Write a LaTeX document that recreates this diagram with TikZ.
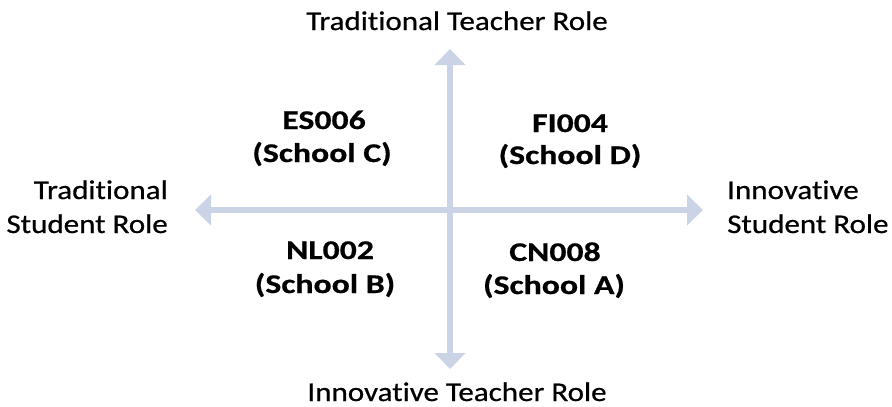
\documentclass[tikz,border=0pt]{standalone}
\usepackage{fontspec}
\setmainfont[Ligatures=NoCommon]{Carlito}
\newfontfamily\axisfont[Ligatures=NoCommon,FakeStretch=1.15,FakeBold=0.6]{Carlito}
\newfontfamily\quadfont[Ligatures=NoCommon,FakeStretch=1.25,BoldFont={Carlito Bold},BoldFeatures={FakeBold=0.6}]{Carlito}
\usetikzlibrary{arrows.meta}
\definecolor{axis}{RGB}{203,212,231}
\begin{document}
\begin{tikzpicture}[x=1pt,y=-1pt,
  axisline/.style={draw=axis,line width=6.5pt,-{Triangle[length=16pt,width=30pt]}},
  axislabel/.style={font=\axisfont\fontsize{27}{34}\selectfont,text=black,inner sep=0pt,anchor=base},
  quadlabel/.style={font=\quadfont\bfseries\fontsize{27}{33}\selectfont,text=black,inner sep=0pt,anchor=base}]
\clip (0,0) rectangle (892,407);
\useasboundingbox (0,0) rectangle (892,407);
\coordinate (c) at (450,210);
\coordinate (top) at (450,49);
\coordinate (bot) at (450,369);
\coordinate (lft) at (195,210);
\coordinate (rgt) at (703,210);
\draw[axisline] (c) -- (top);
\draw[axisline] (c) -- (bot);
\draw[axisline] (c) -- (lft);
\draw[axisline] (c) -- (rgt);
\node[axislabel] (tt) at (457,30) {Traditional Teacher Role};
\node[axislabel] (it) at (457,401) {Innovative Teacher Role};
\node[axislabel,anchor=base east] (ts1) at (168,199) {Traditional};
\node[axislabel,anchor=base east] (ts2) at (168,233) {Student Role};
\node[axislabel,anchor=base west] (is1) at (727,199) {Innovative};
\node[axislabel,anchor=base west] (is2) at (727,233) {Student Role};
\node[quadlabel] (q1a) at (324,129) {ES006};
\node[quadlabel] (q1b) at (322,162) {(School C)};
\node[quadlabel] (q2a) at (570,132) {FI004};
\node[quadlabel] (q2b) at (570,164) {(School D)};
\node[quadlabel] (q3a) at (330,259) {NL002};
\node[quadlabel] (q3b) at (325,293) {(School B)};
\node[quadlabel] (q4a) at (555,261) {CN008};
\node[quadlabel] (q4b) at (554,294) {(School A)};
\end{tikzpicture}
\end{document}
